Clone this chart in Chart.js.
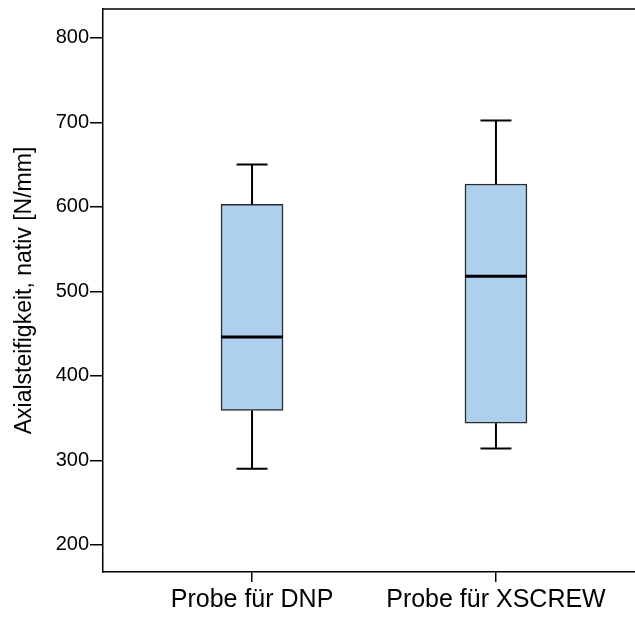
<!DOCTYPE html>
<html>
<head>
<meta charset="utf-8">
<script src="https://cdn.jsdelivr.net/npm/chart.js@4.4.1/dist/chart.umd.min.js"></script>
<style>
  html, body { margin: 0; padding: 0; background: #fff; }
  #wrap { width: 635px; height: 618px; }
</style>
</head>
<body>
<div id="wrap"><canvas id="boxChart"></canvas></div>
<script>
// box plot values
var categories = ['Probe für DNP', 'Probe für XSCREW'];
var minVals    = [290, 314];
var q1Vals     = [359, 344];
var medianVals = [446, 518];
var q3Vals     = [603, 627];
var maxVals    = [650, 702];
var yTicks     = [200, 300, 400, 500, 600, 700, 800];

var fontFam = "'Liberation Sans', Arial, sans-serif";

// whiskers, caps and median drawn with the chart's own scales
var boxExtras = {
  id: 'boxExtras',
  afterDatasetsDraw: function(chart) {
    var c = chart.ctx;
    var y = chart.scales.y;
    var meta = chart.getDatasetMeta(0);
    c.save();
    c.strokeStyle = '#000';
    for (var i = 0; i < categories.length; i++) {
      var bar = meta.data[i];
      var x = bar.x;
      var half = bar.width / 2;
      c.lineWidth = 2;
      c.beginPath();
      c.moveTo(x, y.getPixelForValue(q3Vals[i]));
      c.lineTo(x, y.getPixelForValue(maxVals[i]));
      c.moveTo(x, y.getPixelForValue(q1Vals[i]));
      c.lineTo(x, y.getPixelForValue(minVals[i]));
      c.moveTo(x - 15.5, y.getPixelForValue(maxVals[i]));
      c.lineTo(x + 15.5, y.getPixelForValue(maxVals[i]));
      c.moveTo(x - 15.5, y.getPixelForValue(minVals[i]));
      c.lineTo(x + 15.5, y.getPixelForValue(minVals[i]));
      c.stroke();
      c.lineWidth = 3;
      c.beginPath();
      c.moveTo(x - half, y.getPixelForValue(medianVals[i]));
      c.lineTo(x + half, y.getPixelForValue(medianVals[i]));
      c.stroke();
    }
    // top frame line
    var a = chart.chartArea;
    c.lineWidth = 1.5;
    c.beginPath();
    c.moveTo(a.left, a.top);
    c.lineTo(a.right, a.top);
    c.stroke();
    c.restore();
  }
};

var ctx = document.getElementById('boxChart');
var chart = new Chart(ctx, {
  type: 'bar',
  data: {
    datasets: [{
      data: categories.map(function(c, i) { return { x: i + 1, y: [q1Vals[i], q3Vals[i]] }; }),
      backgroundColor: '#aecfee',
      borderColor: '#2a2a2a',
      borderWidth: 1.5,
      borderSkipped: false,
      barThickness: 62
    }]
  },
  options: {
    responsive: true,
    maintainAspectRatio: false,
    animation: false,
    layout: { padding: { top: 9, right: 0, left: 0, bottom: 0 } },
    plugins: {
      legend: { display: false },
      tooltip: { enabled: false }
    },
    scales: {
      x: {
        type: 'linear',
        min: 0.389,
        max: 2.57,
        offset: false,
        grid: { display: true, offset: false, drawOnChartArea: false, tickLength: 10, color: '#000', lineWidth: 1.5 },
        border: { display: true, color: '#000', width: 1.5 },
        ticks: {
          color: '#000',
          font: { family: fontFam, size: 25 },
          padding: 3,
          maxRotation: 0,
          callback: function(v) { return categories[v - 1]; }
        },
        afterBuildTicks: function(axis) {
          axis.ticks = categories.map(function(c, i) { return { value: i + 1 }; });
        },
        afterFit: function(scale) {
          scale.height = 46;
          scale.paddingLeft = 0;
          scale.paddingRight = 0;
        }
      },
      y: {
        min: 168,
        max: 834,
        grid: { display: true, drawOnChartArea: false, tickLength: 13, color: '#000', lineWidth: 1.5 },
        border: { display: true, color: '#000', width: 1.5 },
        ticks: { color: '#000', font: { family: fontFam, size: 20 }, padding: 1 },
        afterBuildTicks: function(axis) {
          axis.ticks = yTicks.map(function(v) { return { value: v }; });
        },
        title: {
          display: true,
          text: 'Axialsteifigkeit, nativ [N/mm]',
          color: '#000',
          font: { family: fontFam, size: 23 },
          padding: { top: 11, bottom: 0 }
        },
        afterFit: function(scale) {
          scale.width = 103;
          scale.paddingTop = 0;
          scale.paddingBottom = 0;
        }
      }
    }
  },
  plugins: [boxExtras]
});
</script>
</body>
</html>
